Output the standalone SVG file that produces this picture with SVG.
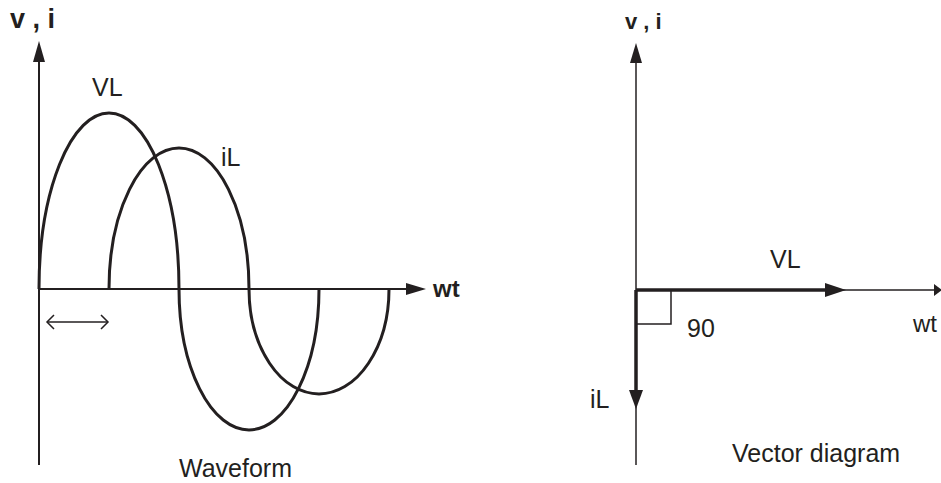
<svg xmlns="http://www.w3.org/2000/svg" width="941" height="483" viewBox="0 0 941 483">
<style>
.ax{stroke:#231f20;stroke-width:2;fill:none}
.thin{stroke:#231f20;stroke-width:1.5;fill:none}
.thick{stroke:#231f20;stroke-width:3.5;fill:none}
.wave{stroke:#231f20;stroke-width:3;fill:none}
.hd{fill:#231f20;stroke:none}
text{font-family:"Liberation Sans",Arial,sans-serif;fill:#231f20}
.lbl{font-size:25px}
.ttl{font-size:27px;font-weight:bold}
</style>
<rect width="941" height="483" fill="#fff"/>
<g id="waveform-axes">
<line class="ax" x1="39" y1="58" x2="39" y2="465"/>
<polygon class="hd" points="39,41 33,62 45,62"/>
<line class="ax" x1="39" y1="289" x2="410" y2="289"/>
<polygon class="hd" points="426,289 406,283 406,295"/>
<text class="ttl" x="10" y="28">v , i</text>
<text class="ttl" x="433" y="297" style="font-size:24px">wt</text>
</g>
<g id="connectors">
<path id="VL-wave" class="wave" d="M39,289 A70,176 0 0 1 179,289 A70,141 0 0 0 319,289"/>
<path id="iL-wave" class="wave" d="M109,289 A70,141 0 0 1 249,289 A70,105 0 0 0 389,289"/>
<g id="phase-shift" class="thin">
<line x1="47" y1="322" x2="108" y2="322"/>
<polyline points="54,315 47,322 54,329"/>
<polyline points="101,315 108,322 101,329"/>
</g>
</g>
<g id="waveform-labels">
<text class="lbl" x="92" y="96">VL</text>
<text class="lbl" x="221" y="166">iL</text>
<text class="lbl" x="179" y="477">Waveform</text>
</g>
<g id="vector-axes">
<line class="thin" x1="636" y1="58" x2="636" y2="465"/>
<polygon class="hd" points="636,43 630,63 642,63"/>
<line class="thin" x1="636" y1="290" x2="936" y2="290"/>
<polygon class="hd" points="942,290 934,284 934,296"/>
<text class="ttl" x="625" y="29" style="font-size:22px">v , i</text>
<text class="lbl" x="913" y="332" style="font-size:24px">wt</text>
</g>
<g id="VL-vector">
<line class="thick" x1="636" y1="290" x2="828" y2="290"/>
<polygon class="hd" points="846,290 825,283 825,297"/>
<text class="lbl" x="770" y="268">VL</text>
</g>
<g id="iL-vector">
<line class="thick" x1="636" y1="290" x2="636" y2="392"/>
<polygon class="hd" points="636,409 629,390 643,390"/>
<text class="lbl" x="590" y="408">iL</text>
</g>
<g id="right-angle">
<polyline class="thin" points="636,324 671,324 671,290"/>
<text class="lbl" x="687" y="337">90</text>
</g>
<text class="lbl" x="732" y="462">Vector diagram</text>
</svg>
